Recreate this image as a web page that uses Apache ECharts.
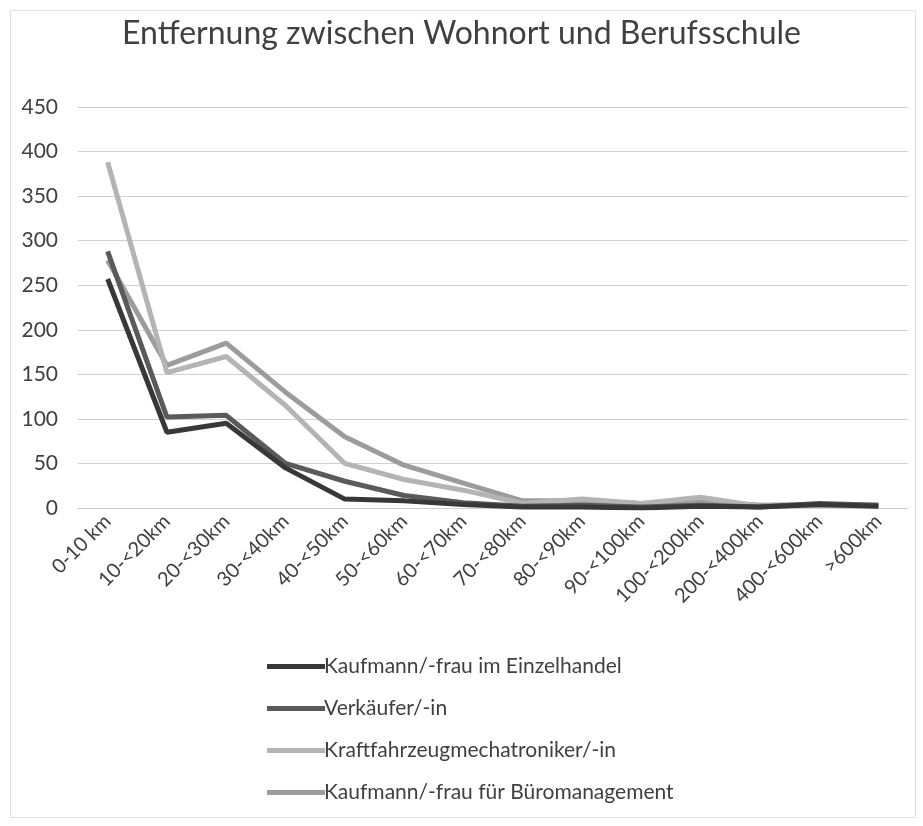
<!DOCTYPE html>
<html>
<head>
<meta charset="utf-8">
<title>Entfernung zwischen Wohnort und Berufsschule</title>
<script src="https://cdn.jsdelivr.net/npm/echarts@6/dist/echarts.min.js"></script>
<style>
  html, body { margin: 0; padding: 0; background: #ffffff; }
  #chart { width: 923px; height: 826px; }
</style>
</head>
<body>
<div id="chart"></div>
<script>
// Distance bands between home and vocational school
var categories = ['0-10 km', '10-<20km', '20-<30km', '30-<40km', '40-<50km', '50-<60km', '60-<70km',
  '70-<80km', '80-<90km', '90-<100km', '100-<200km', '200-<400km', '400-<600km', '>600km'];

// Number of trainees per distance band, by occupation
var einzelhandel = [257, 85, 95, 45, 10, 8, 4, 1, 1, 0, 2, 1, 4, 2];
var verkaeufer = [288, 102, 104, 50, 30, 14, 6, 2, 3, 1, 3, 1, 5, 3];
var kfzMechatroniker = [388, 152, 170, 115, 50, 32, 20, 5, 10, 5, 12, 2, 3, 2];
var bueromanagement = [278, 160, 185, 130, 80, 48, 28, 8, 8, 5, 8, 3, 4, 3];

var seriesNames = [
  'Kaufmann/-frau im Einzelhandel',
  'Verkäufer/-in',
  'Kraftfahrzeugmechatroniker/-in',
  'Kaufmann/-frau für Büromanagement'
];

var yTicks = { min: 0, max: 450, interval: 50 };

var font = 'Lato, "Open Sans", sans-serif';
var colors = ['#383838', '#5a5a5a', '#b4b4b4', '#9c9c9c'];
var dataSets = [einzelhandel, verkaeufer, kfzMechatroniker, bueromanagement];

var chart = echarts.init(document.getElementById('chart'), null, { renderer: 'canvas' });

var series = dataSets.map(function (values, i) {
  return {
    name: seriesNames[i],
    type: 'line',
    data: values,
    showSymbol: false,
    symbol: 'none',
    z: 10 - i,
    lineStyle: { color: colors[i], width: 5 },
    itemStyle: { color: colors[i] },
    emphasis: { disabled: true }
  };
});

chart.setOption({
  animation: false,
  backgroundColor: '#ffffff',
  textStyle: { fontFamily: font },
  title: {
    text: 'Entfernung zwischen Wohnort und Berufsschule',
    left: 'center',
    top: 13,
    textStyle: { fontFamily: font, fontSize: 32, fontWeight: 'normal', color: '#404040' }
  },
  graphic: [{
    type: 'rect',
    left: 8, top: 8,
    shape: { width: 905, height: 807 },
    style: { fill: 'none', stroke: '#e0e0e0', lineWidth: 1 },
    silent: true
  }],
  grid: { left: 78, right: 15, top: 107, bottom: 318, containLabel: false },
  xAxis: {
    type: 'category',
    data: categories,
    boundaryGap: true,
    axisLine: { show: true, lineStyle: { color: '#d0d0d0' } },
    axisTick: { show: false },
    axisLabel: {
      rotate: 45,
      interval: 0,
      margin: 10,
      fontFamily: font,
      fontSize: 20,
      color: '#404040'
    }
  },
  yAxis: {
    type: 'value',
    min: yTicks.min,
    max: yTicks.max,
    interval: yTicks.interval,
    axisLine: { show: false },
    axisTick: { show: false },
    splitLine: { lineStyle: { color: '#d0d0d0', width: 1 } },
    axisLabel: { margin: 20, fontFamily: font, fontSize: 21, color: '#404040' }
  },
  legend: {
    orient: 'vertical',
    left: 262,
    top: 651,
    itemWidth: 58,
    itemHeight: 5,
    itemGap: 21,
    icon: 'rect',
    data: seriesNames,
    textStyle: { fontFamily: font, fontSize: 21, color: '#404040', padding: [0, 0, 0, -6] }
  },
  series: series
});
</script>
</body>
</html>
